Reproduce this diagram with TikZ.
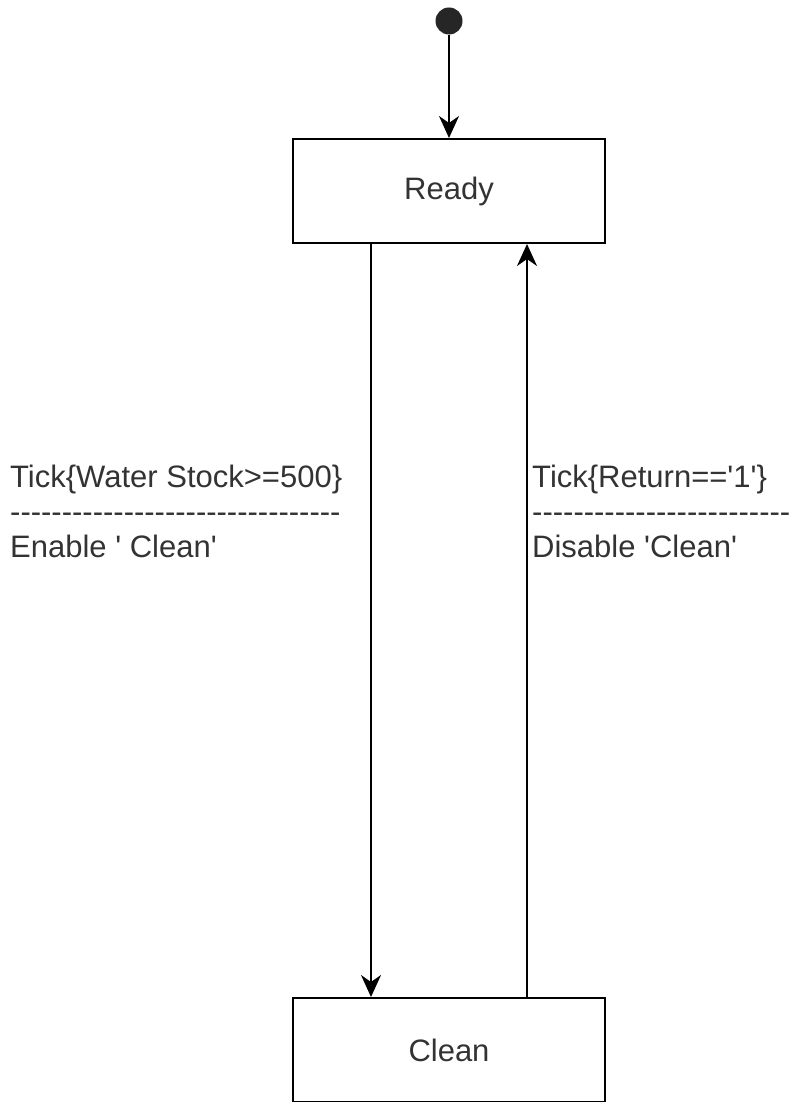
\documentclass[tikz,border=0pt]{standalone}
\usepackage{fontspec}
\setmainfont{Liberation Sans}
\usetikzlibrary{arrows.meta}

\newcommand{\hyphenrow}[1]{\foreach \i in {1,...,#1}{\mbox{-}}}

\tikzset{
    state/.style={draw, line width=2pt, rectangle, minimum width=312pt, minimum height=104pt, text=black!80},
    trans/.style={line width=2pt, -{Stealth[length=22pt, width=20pt, inset=7pt]}},
    guard/.style={anchor=west, inner sep=0pt, align=left, text=black!80}
}

\begin{document}
\begin{tikzpicture}[x=1pt, y=-1pt, font=\fontsize{31}{35}\selectfont]
                \useasboundingbox (0,0) rectangle (794,1102);

                \node[circle, fill=black!85, minimum size=27pt, inner sep=0pt] (init) at (449,21) {};
                \node[state] (ready) at (449,191) {Ready};
                \node[state] (clean) at (449,1050) {Clean};

                \draw[trans] (init) -- (ready);
                \draw[trans] ([xshift=-78pt]ready.south) -- ([xshift=-78pt]clean.north);
                \draw[trans] ([xshift=78pt]clean.north) -- ([xshift=78pt]ready.south);

                \node[guard] (enterlbl) at (10,511) {Tick\{Water Stock>=500\}\\ \hyphenrow{32}\\ Enable \textquotesingle\ Clean\textquotesingle};
                \node[guard] (leavelbl) at (532,511) {Tick\{Return==\textquotesingle 1\textquotesingle\}\\ \hyphenrow{25}\\ Disable \textquotesingle Clean\textquotesingle};
            \end{tikzpicture}
\end{document}
